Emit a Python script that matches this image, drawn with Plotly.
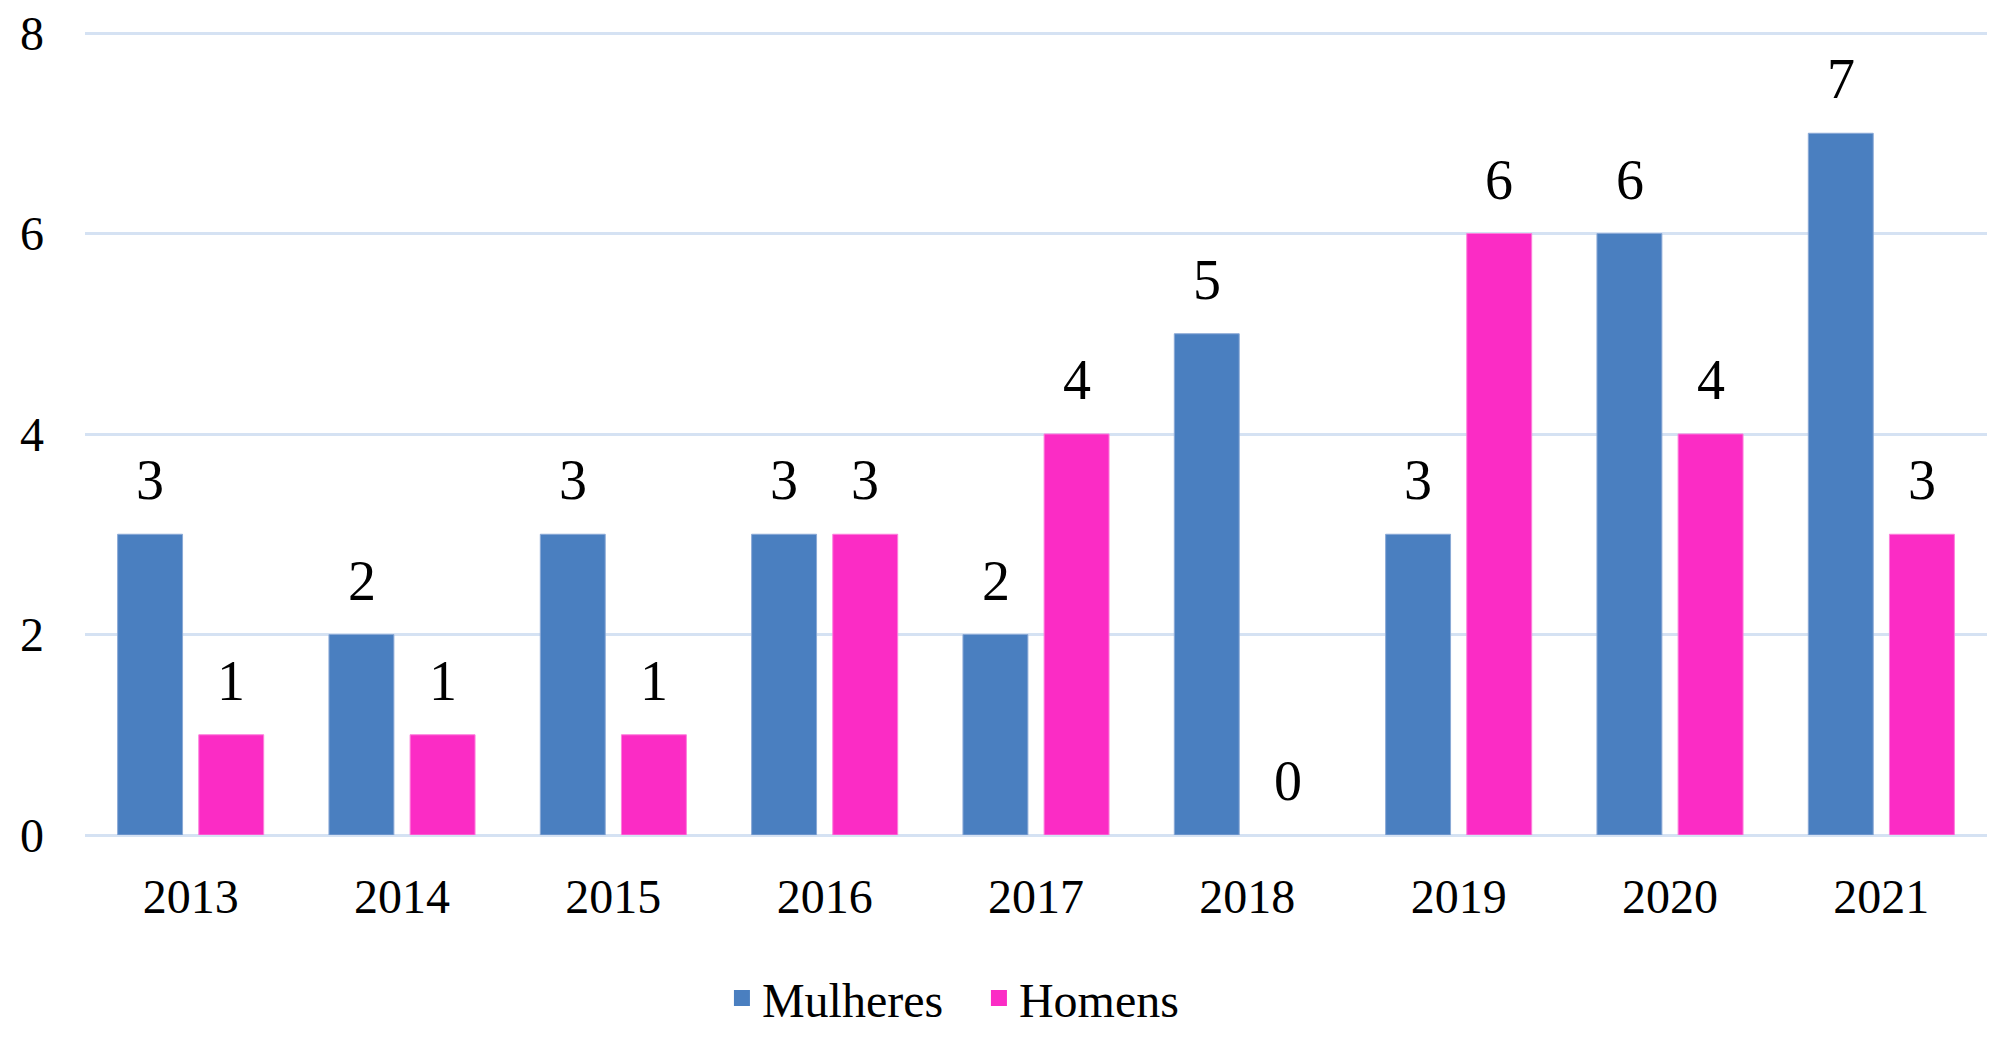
import plotly.graph_objects as go

years = ["2013", "2014", "2015", "2016", "2017", "2018", "2019", "2020", "2021"]
mulheres = [3, 2, 3, 3, 2, 5, 3, 6, 7]
homens = [1, 1, 1, 3, 4, 0, 6, 4, 3]
y_ticks = [0, 2, 4, 6, 8]

BLUE = "#4a7fc0"
BLUE_EDGE = "#8aa9d6"
PINK = "#fb2cc5"
PINK_EDGE = "#fd7fdc"
GRID = "#d5e2f3"
FONT = "Liberation Serif, Times New Roman, serif"

fig = go.Figure()
fig.add_trace(go.Bar(x=years, y=mulheres, name="Mulheres", showlegend=False,
                     marker=dict(color=BLUE, line=dict(color=BLUE_EDGE,
                                 width=[1 if v else 0 for v in mulheres]))))
fig.add_trace(go.Bar(x=years, y=homens, name="Homens", showlegend=False,
                     marker=dict(color=PINK, line=dict(color=PINK_EDGE,
                                 width=[1 if v else 0 for v in homens]))))
# legend entries
fig.add_trace(go.Scatter(x=[None], y=[None], mode="markers", name="Mulheres",
                         marker=dict(symbol="square", size=16, color=BLUE)))
fig.add_trace(go.Scatter(x=[None], y=[None], mode="markers", name="Homens",
                         marker=dict(symbol="square", size=16, color=PINK)))

annotations = []
for i, (m, h) in enumerate(zip(mulheres, homens)):
    for val, shift in ((m, -40.5), (h, 40.5)):
        annotations.append(dict(x=i, y=val, xref="x", yref="y", text=str(val),
                                showarrow=False, xshift=shift, yshift=21,
                                yanchor="bottom", xanchor="center",
                                font=dict(family=FONT, size=56, color="black")))

fig.update_layout(
    width=2011, height=1039,
    margin=dict(l=85, r=24, t=31, b=204, autoexpand=False),
    paper_bgcolor="white", plot_bgcolor="white",
    barmode="group", bargap=0.232, bargroupgap=0.2,
    font=dict(family=FONT, size=48, color="black"),
    annotations=annotations,
    showlegend=True,
    legend=dict(orientation="h", x=0.47, xanchor="center", y=-0.203, yanchor="middle",
                font=dict(family=FONT, size=48, color="black"),
                entrywidth=212, entrywidthmode="pixels",
                itemsizing="trace", traceorder="normal"),
    xaxis=dict(type="category", categoryorder="array", categoryarray=years,
               range=[-0.5, len(years) - 0.5],
               showgrid=False, showline=False, zeroline=False, ticks="",
               ticklabelstandoff=29, tickfont=dict(family=FONT, size=48)),
    yaxis=dict(range=[0, 8.02], tickvals=y_ticks, showgrid=True, gridcolor=GRID, gridwidth=3,
               zeroline=True, zerolinecolor=GRID, zerolinewidth=3, showline=False,
               ticks="", ticklabelstandoff=40, tickfont=dict(family=FONT, size=48)),
)

fig.write_html("out.html")
